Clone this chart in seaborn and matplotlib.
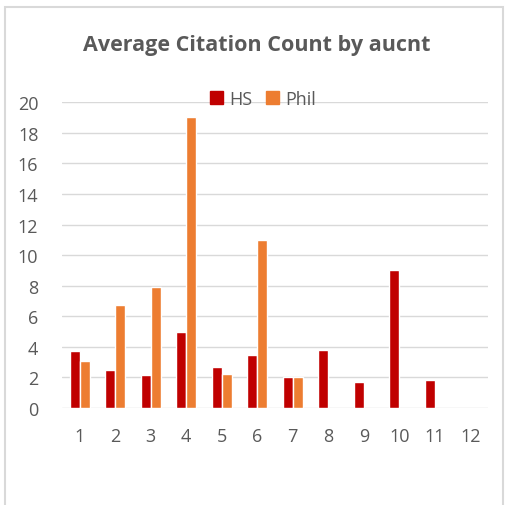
import matplotlib
matplotlib.use("Agg")
import matplotlib.pyplot as plt
from matplotlib.patches import Rectangle, Patch
import numpy as np
import pandas as pd
import seaborn as sns

# Average citation count per number of authors (aucnt)
categories = ["1", "2", "3", "4", "5", "6", "7", "8", "9", "10", "11", "12"]
hs_values = [3.7, 2.5, 2.15, 5.0, 2.65, 3.45, 2.0, 3.8, 1.7, 9.0, 1.8, np.nan]
phil_values = [3.05, 6.75, 7.9, 19.05, 2.25, 11.0, 2.0, np.nan, np.nan, np.nan, np.nan, np.nan]
series_names = ["HS", "Phil"]
series_colors = ["#C00000", "#ED7D31"]

df = pd.DataFrame({
    "aucnt": categories * 2,
    "value": hs_values + phil_values,
    "series": [series_names[0]] * len(categories) + [series_names[1]] * len(categories),
})

sns.set_theme(style="white")
plt.rcParams["font.family"] = ["Open Sans", "DejaVu Sans"]
text_color = "#595959"
grid_color = "#D9D9D9"

W, H = 505, 506
fig = plt.figure(figsize=(W / 100, H / 100), dpi=100)
fig.patch.set_facecolor("white")

# chart-area frame
fig.patches.append(Rectangle((5 / W, -0.05), 498 / W, 1.05 - 8 / H,
                             transform=fig.transFigure, fill=False,
                             edgecolor=grid_color, linewidth=1.5))

ax = fig.add_axes([62 / W, 97 / H, 426 / W, 305.7 / H])
sns.barplot(data=df, x="aucnt", y="value", hue="series", order=categories,
            hue_order=series_names, palette=series_colors, width=0.57, gap=0,
            errorbar=None, saturation=1, legend=False, ax=ax, zorder=3)

ax.set_ylim(0, 20)
ax.set_xlim(-0.5, len(categories) - 0.5)
ax.set_yticks(range(0, 21, 2))
ax.yaxis.grid(True, color=grid_color, linewidth=1.0, zorder=0)
ax.set_axisbelow(True)
for s in ax.spines.values():
    s.set_visible(False)
ax.set_xlabel("")
ax.set_ylabel("")
ax.tick_params(axis="both", length=0, labelsize=13, labelcolor=text_color)
ax.tick_params(axis="y", pad=17)
ax.tick_params(axis="x", pad=14)

fig.text(257 / W, 1 - 45 / H, "Average Citation Count by aucnt", ha="center",
         va="center", fontsize=15.5, fontweight="bold", color=text_color)

handles = [Patch(facecolor=c, edgecolor=c) for c in series_colors]
leg = fig.legend(handles, series_names, loc="center", bbox_to_anchor=(263 / W, 1 - 100 / H),
                 ncol=2, frameon=False, fontsize=13, handlelength=0.7, handleheight=0.7,
                 handletextpad=0.35, columnspacing=0.8, labelcolor=text_color,
                 borderaxespad=0, borderpad=0)

fig.savefig("out.png", dpi=100, facecolor="white")
